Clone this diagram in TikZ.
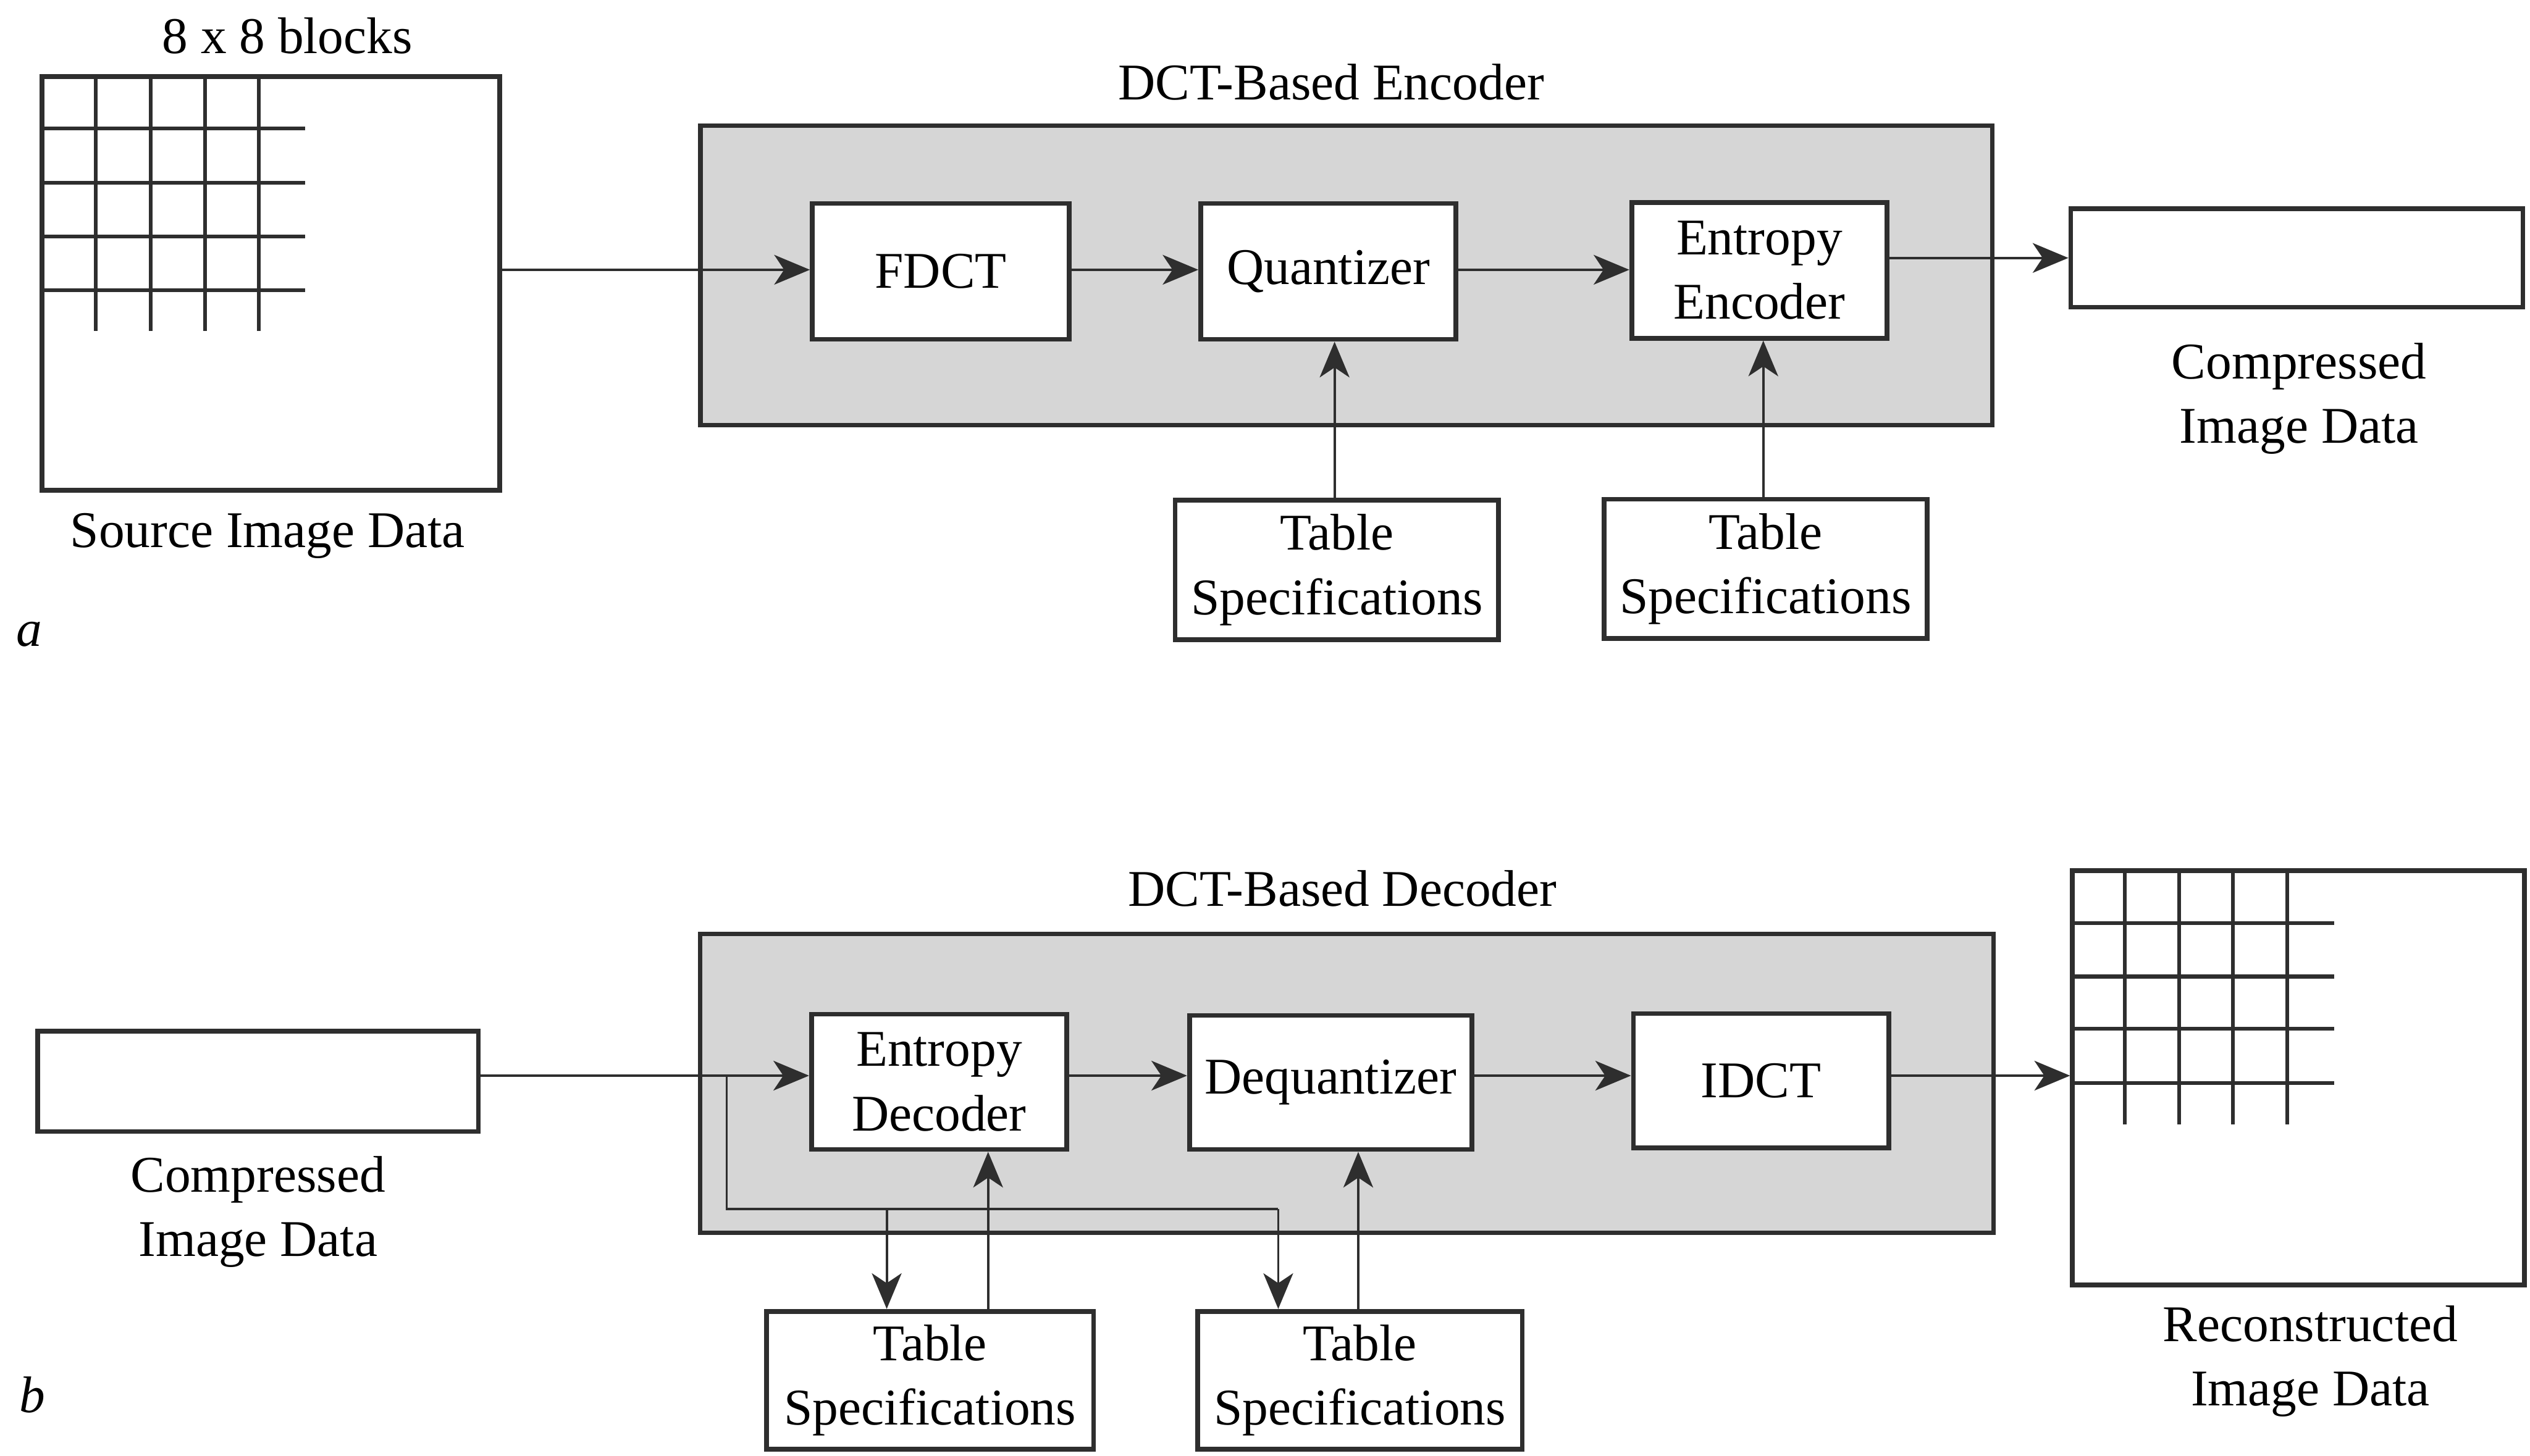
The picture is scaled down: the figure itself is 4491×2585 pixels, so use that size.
\documentclass[tikz,border=0pt]{standalone}
\usepackage{fontspec}
\setmainfont{Liberation Serif}
\usetikzlibrary{arrows.meta}
\definecolor{ink}{HTML}{2E2E2E}
\definecolor{panel}{HTML}{D6D6D6}
\tikzset{
  blk/.style={draw=ink, line width=2.4pt, fill=white, align=center, inner sep=0pt},
  panelbox/.style={draw=ink, line width=2.2pt, fill=panel, inner sep=0pt},
  lbl/.style={align=center, inner sep=0pt, text=black},
  arr/.style={draw=ink, line width=1.2pt, -{Stealth[length=18pt, width=15pt, inset=5pt]}},
  ln/.style={draw=ink, line width=1.2pt},
  gridln/.style={draw=ink, line width=1.9pt},
}
\begin{document}
\begin{tikzpicture}[x=0.01cm, y=-0.01cm, font=\fontsize{26pt}{32.5pt}\selectfont]
\useasboundingbox (0,0) rectangle (4491,2585);
\fill[white] (0,0) rectangle (4491,2585);

% ---------------- (a) encoder ----------------
\node[blk, minimum width=8.12cm, minimum height=7.34cm] (src) at (481,503) {};
\foreach \x in {170,268,364,459} \draw[gridln] (\x,132) -- (\x,588);
\foreach \y in {228,325,420,515} \draw[gridln] (71,\y) -- (542,\y);
\node[lbl] (blocks) at (510,64) {8 x 8 blocks};
\node[lbl] (srclbl) at (475,952) {Source Image Data};

\node[panelbox, minimum width=22.92cm, minimum height=5.31cm] (enc) at (2390,489) {};
\node[lbl] (enclbl) at (2363,146) {DCT-Based Encoder};

\node[blk, minimum width=4.56cm, minimum height=2.41cm] (fdct) at (1670,482) {FDCT};
\node[blk, minimum width=4.53cm, minimum height=2.41cm] (quant) at (2358,482) {Quantizer};
\node[blk, minimum width=4.53cm, minimum height=2.41cm] (entenc) at (3123,480) {Entropy\\Encoder};
\node[blk, minimum width=8.02cm, minimum height=1.75cm] (cout) at (4077,458) {};
\node[lbl] (coutlbl) at (4081,708) {Compressed\\Image Data};

\node[blk, minimum width=5.74cm, minimum height=2.47cm] (ts1) at (2373,1012) {Table\\Specifications};
\node[blk, minimum width=5.73cm, minimum height=2.47cm] (ts2) at (3134,1010) {Table\\Specifications};
\node[lbl, font=\fontsize{26pt}{32.5pt}\selectfont\itshape] (la) at (52,1126) {a};

\coordinate (ya) at (0,479);
\draw[arr] (src.east |- ya) -- (fdct.west |- ya);
\draw[arr] (fdct.east |- ya) -- (quant.west |- ya);
\draw[arr] (quant.east |- ya) -- (entenc.west |- ya);
\draw[arr] (entenc.east |- cout) -- (cout.west);
\coordinate (u1) at (2369,0);
\coordinate (u2) at (3130,0);
\draw[arr] (ts1.north -| u1) -- (quant.south -| u1);
\draw[arr] (ts2.north -| u2) -- (entenc.south -| u2);

% ---------------- (b) decoder ----------------
\node[lbl] (declbl) at (2383,1578) {DCT-Based Decoder};
\node[panelbox, minimum width=22.95cm, minimum height=5.30cm] (dec) at (2391,1924) {};

\node[blk, minimum width=7.82cm, minimum height=1.78cm] (cin) at (458,1920) {};
\node[lbl] (cinlbl) at (458,2152) {Compressed\\Image Data};

\node[blk, minimum width=4.53cm, minimum height=2.40cm] (entdec) at (1667,1921) {Entropy\\Decoder};
\node[blk, minimum width=5.01cm, minimum height=2.38cm] (dequant) at (2362,1922) {Dequantizer};
\node[blk, minimum width=4.53cm, minimum height=2.38cm] (idct) at (3126,1919) {IDCT};

\node[blk, minimum width=8.02cm, minimum height=7.35cm] (rec) at (4080,1914) {};
\foreach \x in {3772,3868,3964,4060} \draw[gridln] (\x,1547) -- (\x,1997);
\foreach \y in {1639,1734,1827,1923} \draw[gridln] (3678,\y) -- (4143,\y);
\node[lbl] (reclbl) at (4101,2417) {Reconstructed\\Image Data};

\node[blk, minimum width=5.80cm, minimum height=2.45cm] (ts3) at (1651,2451) {Table\\Specifications};
\node[blk, minimum width=5.76cm, minimum height=2.45cm] (ts4) at (2414,2451) {Table\\Specifications};
\node[lbl, font=\fontsize{26pt}{32.5pt}\selectfont\itshape] (lb) at (57,2477) {b};

\coordinate (yb) at (0,1910);
\coordinate (br) at (1290,1910);
\coordinate (bl) at (1290,2147);
\coordinate (d3) at (1574,2147);
\coordinate (d4) at (2269,2147);
\coordinate (u3) at (1754,0);
\coordinate (u4) at (2411,0);
\draw[arr] (cin.east |- yb) -- (entdec.west |- yb);
\draw[arr] (entdec.east |- yb) -- (dequant.west |- yb);
\draw[arr] (dequant.east |- yb) -- (idct.west |- yb);
\draw[arr] (idct.east |- yb) -- (rec.west |- yb);
\draw[ln] (br) -- (bl) -- (d4);
\draw[arr] (d4) -- (ts4.north -| d4);
\draw[arr] (d3) -- (ts3.north -| d3);
\draw[arr] (ts3.north -| u3) -- (entdec.south -| u3);
\draw[arr] (ts4.north -| u4) -- (dequant.south -| u4);
\end{tikzpicture}
\end{document}
